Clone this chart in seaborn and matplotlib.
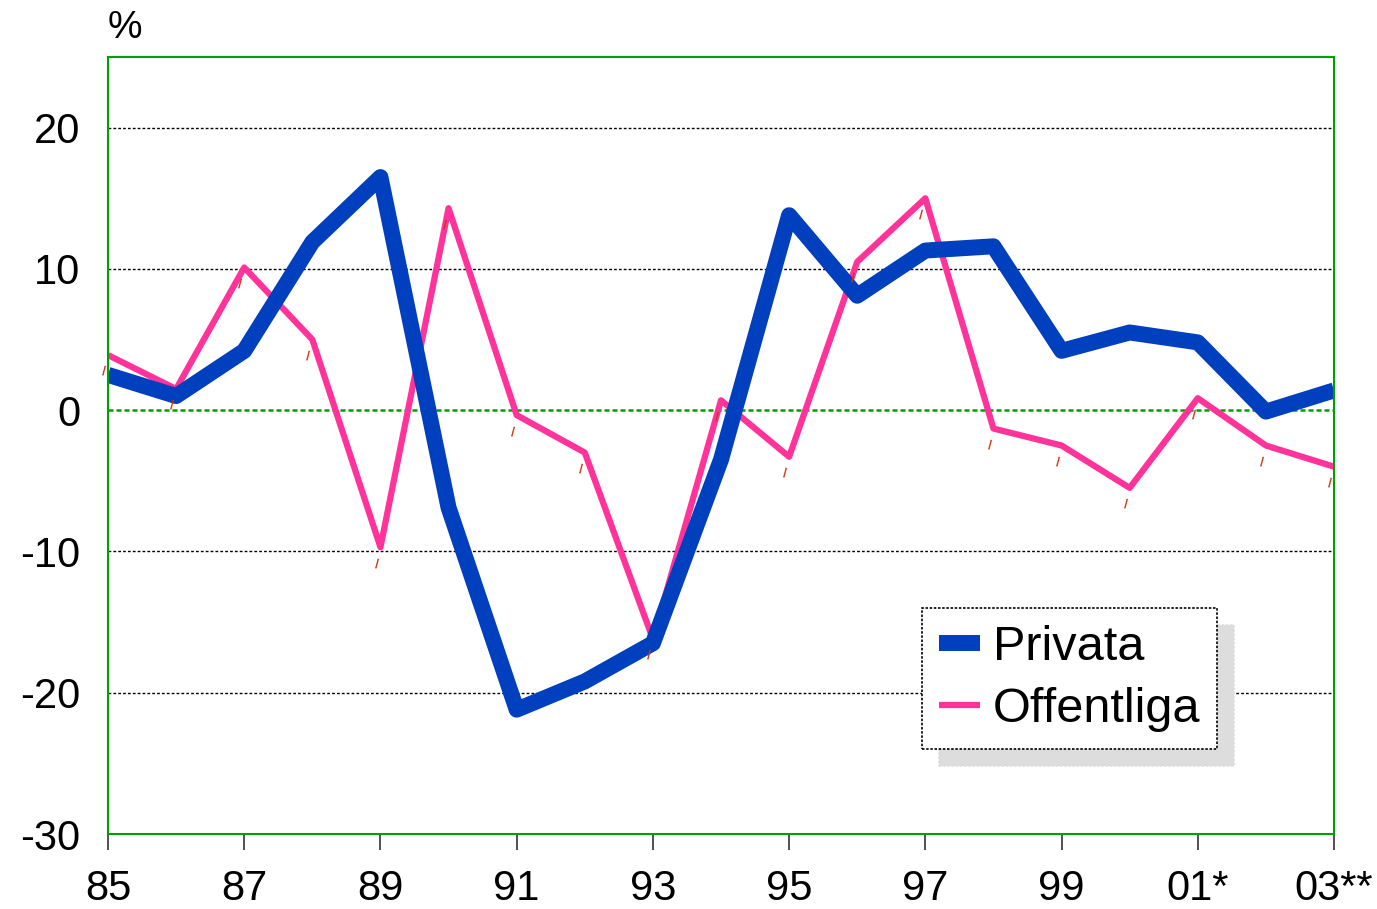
import matplotlib
matplotlib.use("Agg")
import matplotlib.pyplot as plt
import seaborn as sns
import pandas as pd
import numpy as np

years = ['85', '86', '87', '88', '89', '90', '91', '92', '93', '94',
         '95', '96', '97', '98', '99', '00', '01', '02', '03']
tick_labels = ['85', '87', '89', '91', '93', '95', '97', '99', '01*', '03**']
privata = [2.5, 1.0, 4.2, 11.9, 16.5, -6.9, -21.2, -19.2, -16.5, -3.5,
           13.8, 8.1, 11.3, 11.6, 4.2, 5.5, 4.8, -0.1, 1.4]
offentliga = [3.9, 1.5, 10.1, 5.0, -9.7, 14.3, -0.35, -3.0, -16.2, 0.7,
              -3.3, 10.5, 15.0, -1.3, -2.5, -5.5, 0.85, -2.5, -4.0]

sns.set_style("white")
plt.rcParams['font.family'] = ['Liberation Sans', 'DejaVu Sans']
plt.rcParams['text.color'] = 'black'
plt.rcParams['xtick.labelcolor'] = 'black'
plt.rcParams['ytick.labelcolor'] = 'black'

idx = np.arange(len(years))
df = pd.DataFrame({
    'x': np.concatenate([idx, idx]),
    'v': privata + offentliga,
    'serie': ['Privata'] * len(years) + ['Offentliga'] * len(years),
})

fig = plt.figure(figsize=(13.77, 9.09), dpi=100)
ax = fig.add_axes([108/1377, 1-834/909, (1334-108)/1377, (834-57)/909])

blue = '#0040BF'
pink = '#FF3399'
green = '#00A000'

# gridlines
for g in [-20, -10, 10, 20]:
    ax.axhline(g, color='black', lw=1.0, ls=(0, (2, 1.5)), zorder=1)
ax.axhline(0, color=green, lw=1.8, ls=(0, (2, 1.2)), zorder=1)

sns.lineplot(data=df[df.serie == 'Offentliga'], x='x', y='v', ax=ax,
             color=pink, lw=4.5, zorder=3, label='Offentliga',
             solid_joinstyle='round', solid_capstyle='butt')
sns.lineplot(data=df[df.serie == 'Privata'], x='x', y='v', ax=ax,
             color=blue, lw=11.5, zorder=4, label='Privata',
             solid_joinstyle='round', solid_capstyle='butt')

# small red data-label marks
for xi, v in zip(idx, offentliga):
    ax.annotate('|', (xi, v), xytext=(-3.6, -11.5), textcoords='offset points',
                ha='center', va='center', fontsize=8, fontweight='bold',
                color='#CC3311', rotation=-15, zorder=5, annotation_clip=False)

ax.set_xlim(0, 18)
ax.set_ylim(-30, 25)
ax.set_yticks([-30, -20, -10, 0, 10, 20])
ax.set_yticklabels(['-30', '-20', '-10', '0', '10', '20'])
ax.set_xticks(idx[::2])
ax.set_xticklabels(tick_labels)
ax.set_xlabel('')
ax.set_ylabel('')
ax.tick_params(axis='y', length=0, pad=20, labelsize=30, labelcolor='black')
ax.tick_params(axis='x', length=11.5, width=1.2, color='#333333',
               direction='out', pad=14, labelsize=30, bottom=True,
               labelcolor='black')

for s in ax.spines.values():
    s.set_color(green)
    s.set_linewidth(1.5)
    s.set_linestyle((0, (2, 1)))
    s.set_zorder(6)

handles, labels = ax.get_legend_handles_labels()
order = [labels.index('Privata'), labels.index('Offentliga')]
leg = ax.legend([handles[i] for i in order], [labels[i] for i in order],
                loc='lower left', bbox_to_anchor=(0.664, 0.109),
                borderaxespad=0, fontsize=35, frameon=True, fancybox=False,
                handlelength=0.85, handletextpad=0.25, borderpad=0.35,
                labelspacing=0.35,
                shadow={'ox': 12, 'oy': -12, 'color': '#DDDDDD', 'alpha': 1})
fr = leg.get_frame()
fr.set_edgecolor('black')
fr.set_linewidth(1.2)
fr.set_linestyle((0, (1.5, 1)))
fr.set_facecolor('white')
fr.set_alpha(1)
leg.set_zorder(10)
for t in leg.get_texts():
    t.set_color('black')

fig.text(125/1377, 1-28/909, '%', ha='center', va='center', fontsize=28)

fig.savefig('out.png', dpi=100)
